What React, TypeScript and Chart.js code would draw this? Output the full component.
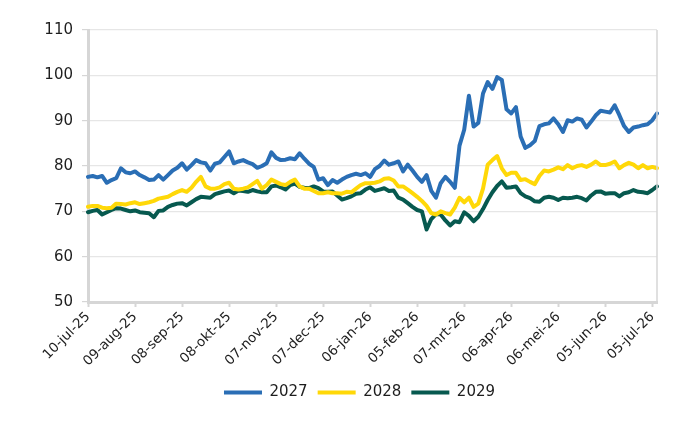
import React, { useEffect, useRef } from "react";
import { Chart, registerables } from "chart.js";

Chart.register(...registerables);

// Tick labels shown on the x axis (every 30 days); data points are every 3 days.
const TICK_LABELS = [
  "10-jul-25", "09-aug-25", "08-sep-25", "08-okt-25", "07-nov-25", "07-dec-25",
  "06-jan-26", "05-feb-26", "07-mrt-26", "06-apr-26", "06-mei-26", "05-jun-26", "05-jul-26",
];
const POINTS_PER_TICK = 10;

const SERIES_NAMES = ["2027", "2028", "2029"];

const S2027 = [
  77.6, 77.8, 77.5, 77.8, 76.3, 76.9, 77.3, 79.5, 78.6, 78.4,
  78.8, 78.0, 77.5, 76.9, 77.0, 78.0, 77.0, 78.0, 79.0, 79.6,
  80.6, 79.2, 80.2, 81.3, 80.8, 80.6, 79.0, 80.5, 80.8, 82.0,
  83.2, 80.6, 81.0, 81.3, 80.8, 80.4, 79.6, 80.0, 80.6, 83.0,
  81.8, 81.3, 81.4, 81.7, 81.5, 82.8, 81.6, 80.5, 79.8, 77.0,
  77.3, 75.8, 76.9, 76.3, 77.0, 77.6, 78.0, 78.3, 78.0, 78.4,
  77.6, 79.3, 80.0, 81.2, 80.3, 80.6, 81.0, 78.8, 80.3, 79.0,
  77.6, 76.5, 78.0, 74.5, 73.0, 76.2, 77.6, 76.5, 75.2, 84.5,
  88.0, 95.5, 88.7, 89.5, 96.0, 98.5, 97.0, 99.6, 99.0, 92.5,
  91.6, 93.0, 86.5, 84.0, 84.6, 85.5, 88.8, 89.2, 89.4, 90.5,
  89.2, 87.5, 90.1, 89.8, 90.5, 90.2, 88.5, 89.8, 91.2, 92.2,
  92.0, 91.8, 93.4, 91.2, 88.8, 87.5, 88.5, 88.7, 89.0, 89.2,
  90.1, 91.6,
];

const S2028 = [
  71.0, 71.2, 71.2, 70.8, 70.7, 70.8, 71.7, 71.6, 71.5, 71.8,
  72.0, 71.6, 71.8, 72.0, 72.3, 72.8, 73.0, 73.2, 73.8, 74.3,
  74.7, 74.3, 75.2, 76.5, 77.6, 75.5, 75.0, 75.0, 75.3, 76.0,
  76.3, 75.0, 74.8, 75.0, 75.3, 76.0, 76.7, 75.0, 75.8, 77.0,
  76.5, 76.0, 75.8, 76.5, 77.0, 75.5, 75.0, 75.0, 74.5, 74.0,
  74.0, 74.2, 74.0, 74.0, 73.9, 74.3, 74.2, 75.0, 75.8, 76.2,
  76.2, 76.3, 76.6, 77.2, 77.3, 76.8, 75.5, 75.5, 74.8, 74.0,
  73.2, 72.3, 71.2, 69.6, 69.3, 70.0, 69.6, 69.3, 70.8, 73.0,
  72.0, 73.0, 71.0, 71.7, 75.0, 80.3, 81.3, 82.2, 79.5, 78.0,
  78.5, 78.5, 76.9, 77.1, 76.5, 76.0, 77.8, 79.0, 78.8, 79.2,
  79.7, 79.3, 80.2, 79.5, 80.0, 80.2, 79.8, 80.3, 81.0, 80.2,
  80.2, 80.5, 81.0, 79.5, 80.2, 80.7, 80.3, 79.5, 80.2, 79.5,
  79.8, 79.5,
];

const S2029 = [
  69.8, 70.1, 70.3, 69.3, 69.8, 70.3, 70.7, 70.6, 70.3, 70.0,
  70.2, 69.8, 69.7, 69.6, 68.7, 70.1, 70.2, 71.0, 71.4, 71.7,
  71.8, 71.3, 72.0, 72.7, 73.2, 73.1, 73.0, 73.8, 74.1, 74.4,
  74.6, 74.0, 74.6, 74.5, 74.3, 74.7, 74.4, 74.2, 74.2, 75.5,
  75.7, 75.3, 74.8, 75.8, 76.1, 75.4, 75.2, 75.1, 75.5, 75.1,
  74.4, 74.3, 74.4, 73.5, 72.6, 72.9, 73.3, 73.9, 74.0, 74.8,
  75.3, 74.5, 74.8, 75.1, 74.5, 74.6, 73.0, 72.6, 71.8, 71.0,
  70.3, 70.0, 66.0, 68.3, 69.4, 69.3, 68.0, 66.9, 67.8, 67.6,
  69.8, 69.0, 67.8, 68.8, 70.5, 72.5, 74.2, 75.6, 76.6, 75.2,
  75.3, 75.5, 74.0, 73.3, 72.9, 72.2, 72.1, 73.0, 73.2, 73.0,
  72.5, 73.0, 72.9, 73.0, 73.2, 72.9, 72.4, 73.5, 74.3, 74.4,
  73.9, 74.0, 74.0, 73.3, 74.0, 74.2, 74.7, 74.3, 74.2, 74.0,
  74.7, 75.5,
];

const COLORS = ["#2a6eb5", "#ffd808", "#07594f"];
const Y_MIN = 50;
const Y_MAX = 110;
const Y_STEP = 10;

const FONT_FAMILY = "'DejaVu Sans', sans-serif";
const TEXT_COLOR = "#1e1e1e";
const AXIS_COLOR = "#d6d6d6";
const GRID_COLOR = "#e6e6e6";
const LEGEND_SHIFT = 27;

const rightBorder = {
  id: "rightBorder",
  afterDatasetsDraw(chart: any) {
    const { ctx, chartArea } = chart;
    ctx.save();
    ctx.strokeStyle = AXIS_COLOR;
    ctx.lineWidth = 1.5;
    ctx.beginPath();
    ctx.moveTo(chartArea.right, chartArea.top);
    ctx.lineTo(chartArea.right, chartArea.bottom);
    ctx.stroke();
    ctx.restore();
  },
};

const legendShift = {
  id: "legendShift",
  afterLayout(chart: any) {
    const lg = chart.legend;
    if (lg) {
      lg.left += LEGEND_SHIFT;
      lg.right += LEGEND_SHIFT;
    }
  },
};

export default function App() {
  const ref = useRef<HTMLCanvasElement | null>(null);

  useEffect(() => {
    if (!ref.current) return;
    const labels = S2027.map((_, i) =>
      i % POINTS_PER_TICK === 0 && TICK_LABELS[i / POINTS_PER_TICK] ? TICK_LABELS[i / POINTS_PER_TICK] : ""
    );
    const seriesData = [S2027, S2028, S2029];
    const chart = new Chart(ref.current, {
      type: "line",
      data: {
        labels,
        datasets: SERIES_NAMES.map((name, k) => ({
          label: name,
          data: seriesData[k],
          borderColor: COLORS[k],
          backgroundColor: COLORS[k],
          borderWidth: 4,
          pointRadius: 0,
          pointHoverRadius: 0,
          tension: 0,
          borderJoinStyle: "round" as const,
          borderCapStyle: "round" as const,
          pointStyle: "line" as const,
        })),
      },
      options: {
        animation: false,
        responsive: true,
        maintainAspectRatio: false,
        layout: { padding: { left: 0, right: 35, top: 22, bottom: 12 } },
        plugins: {
          tooltip: { enabled: false },
          legend: {
            position: "bottom",
            labels: {
              usePointStyle: true,
              pointStyleWidth: 38,
              boxHeight: 4,
              padding: 10,
              color: TEXT_COLOR,
              font: { family: FONT_FAMILY, size: 15 },
            },
          },
        },
        scales: {
          x: {
            type: "category",
            offset: false,
            afterFit: (scale: any) => {
              scale.height = 73;
            },
            grid: {
              display: true,
              drawOnChartArea: false,
              drawTicks: true,
              tickLength: 5,
              tickColor: AXIS_COLOR,
              tickWidth: 2,
            },
            border: { display: true, color: AXIS_COLOR, width: 3 },
            ticks: {
              autoSkip: false,
              minRotation: 45,
              maxRotation: 45,
              padding: 2,
              color: TEXT_COLOR,
              font: { family: FONT_FAMILY, size: 13.5 },
              callback: (_v: any, i: number) =>
                i % POINTS_PER_TICK === 0 ? TICK_LABELS[i / POINTS_PER_TICK] : null,
            },
          },
          y: {
            min: Y_MIN,
            max: Y_MAX,
            afterFit: (scale: any) => {
              scale.width = 80;
            },
            grid: {
              color: GRID_COLOR,
              lineWidth: 1.2,
              drawTicks: true,
              tickLength: 6,
              tickColor: AXIS_COLOR,
            },
            border: { display: true, color: AXIS_COLOR, width: 3 },
            ticks: {
              stepSize: Y_STEP,
              padding: 9,
              color: TEXT_COLOR,
              font: { family: FONT_FAMILY, size: 15 },
            },
          },
        },
      },
      plugins: [rightBorder, legendShift],
    });
    return () => chart.destroy();
  }, []);

  return (
    <div style={{ width: 684, height: 414, position: "relative" }}>
      <canvas ref={ref} />
    </div>
  );
}
